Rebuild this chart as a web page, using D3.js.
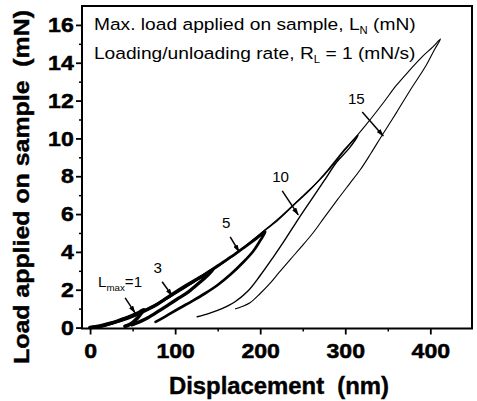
<!DOCTYPE html>
<html>
<head>
<meta charset="utf-8">
<script src="https://cdn.jsdelivr.net/npm/d3@7"></script>
<style>
  html, body { margin: 0; padding: 0; background: #fff; }
  svg { display: block; }
  text { font-family: "Liberation Sans", Arial, Helvetica, sans-serif; fill: #000; }
</style>
</head>
<body>
<svg id="chart" width="477" height="401"></svg>
<script>
// Axis ticks
const xTickValues = [0, 100, 200, 300, 400];
const xMinorValues = [50, 150, 250, 350];
const yTickValues = [0, 2, 4, 6, 8, 10, 12, 14, 16];
const yMinorValues = [1, 3, 5, 7, 9, 11, 13, 15];

// Maximum load of each indentation cycle (mN)
const maxLoads = [1, 3, 5, 10, 15];

// Load–displacement cycles: [displacement (nm), load (mN)], loading then unloading
const run1 = [
  [0, 0], [8, 0.05], [16, 0.13], [24, 0.23], [32, 0.34], [40, 0.47], [48, 0.6], [56, 0.76], [63, 0.95],
  [60, 0.74], [56, 0.52], [52, 0.34], [48, 0.2], [44, 0.11], [41, 0.07]
];
const run3 = [
  [0, 0], [12, 0.06], [25, 0.22], [38, 0.4], [50, 0.6], [62, 0.84], [75, 1.12], [88, 1.5], [100, 1.86],
  [112, 2.2], [124, 2.52], [135, 2.8], [145, 3.08],
  [138, 2.75], [128, 2.35], [116, 1.9], [104, 1.55], [92, 1.2], [80, 0.85], [68, 0.52], [58, 0.3], [49, 0.14]
];
const run5 = [
  [0, 0], [15, 0.1], [30, 0.3], [45, 0.55], [60, 0.82], [75, 1.15], [90, 1.55], [105, 1.95], [120, 2.38],
  [135, 2.82], [150, 3.27], [165, 3.72], [180, 4.2], [193, 4.62], [206, 5.06],
  [200, 4.6], [192, 4.05], [180, 3.45], [165, 2.8], [150, 2.25], [135, 1.8], [120, 1.4], [105, 1.02],
  [92, 0.68], [82, 0.42], [77, 0.3]
];
const run10 = [
  [0, 0], [20, 0.16], [40, 0.44], [60, 0.8], [80, 1.25], [100, 1.8], [120, 2.35], [140, 2.9], [160, 3.52],
  [180, 4.2], [200, 4.95], [220, 5.65], [240, 6.5], [260, 7.35], [280, 8.35], [300, 9.45], [315, 10.18],
  [305, 9.5], [290, 8.75], [275, 7.75], [260, 6.75], [245, 5.75], [230, 4.7], [215, 3.7], [200, 2.75],
  [185, 1.9], [170, 1.35], [155, 1.0], [140, 0.75], [126, 0.57]
];
const run15 = [
  [0, 0], [25, 0.22], [50, 0.62], [75, 1.13], [100, 1.82], [125, 2.5], [150, 3.25], [175, 4.05], [200, 4.95],
  [225, 5.9], [250, 6.95], [275, 8.05], [300, 9.4], [325, 10.75], [345, 11.9], [360, 12.8], [376, 13.62],
  [390, 14.3], [403, 14.84], [412, 15.26],
  [405, 14.7], [395, 13.85], [376.5, 12.56], [360, 11.35], [343.5, 10.18], [330, 9.2], [317.6, 8.34],
  [305, 7.6], [290.6, 6.75], [275, 5.8], [262, 5.0], [248, 4.25], [235, 3.58], [222, 2.9], [212, 2.36],
  [200, 1.8], [188, 1.31], [178, 1.1], [171, 0.99]
];
const runs = [run1, run3, run5, run10, run15];

// ---- drawing ----
const svg = d3.select("#chart");
const frame = { left: 82, right: 472, top: 6, bottom: 328.5 };

const x = d3.scaleLinear().domain([-9.5, 449]).range([frame.left, frame.right]);
const y = d3.scaleLinear().domain([-0.05, 17]).range([frame.bottom, frame.top]);

svg.append("rect").attr("width", 477).attr("height", 401).attr("fill", "#fff");

// stroke weight per cycle (low-load cycles are recorded densely and look heavy)
const strokeFor = { 1: 3.6, 3: 3.3, 5: 2.7, 10: 1.4, 15: 1.1 };

const line = d3.line()
  .x(d => x(d[0]))
  .y(d => y(d[1]))
  .curve(d3.curveCatmullRom.alpha(0.5));

const plot = svg.append("g");
plot.selectAll("path.cycle")
  .data(runs.map((r, i) => ({ pts: r, max: maxLoads[i] })).reverse())
  .join("path")
  .attr("class", "cycle")
  .attr("d", d => line(d.pts))
  .attr("fill", "none")
  .attr("stroke", "#000")
  .attr("stroke-width", d => strokeFor[d.max])
  .attr("stroke-linejoin", "round")
  .attr("stroke-linecap", "round");

// frame
svg.append("rect")
  .attr("x", frame.left).attr("y", frame.top)
  .attr("width", frame.right - frame.left).attr("height", frame.bottom - frame.top)
  .attr("fill", "none").attr("stroke", "#000").attr("stroke-width", 2);

// axes
const tickFont = g => g.selectAll("text")
  .attr("font-size", 21).attr("font-weight", "bold")
  .attr("font-family", '"Liberation Sans", Arial, sans-serif')
  .attr("fill", "#000")
  .attr("stroke", "#000").attr("stroke-width", 0.5)
  .attr("transform", "scale(1.1,1)");

const gx = svg.append("g").attr("transform", `translate(0,${frame.bottom})`)
  .call(d3.axisBottom(x).tickValues(xTickValues).tickSize(6).tickPadding(9).tickFormat(d3.format("d")));
gx.select(".domain").remove();
gx.call(tickFont);
gx.selectAll(".tick line").attr("stroke-width", 1.8);

const gxm = svg.append("g").attr("transform", `translate(0,${frame.bottom})`)
  .call(d3.axisBottom(x).tickValues(xMinorValues).tickSize(3).tickFormat(""));
gxm.select(".domain").remove();
gxm.selectAll(".tick line").attr("stroke-width", 1.5);

const gy = svg.append("g").attr("transform", `translate(${frame.left},0)`)
  .call(d3.axisLeft(y).tickValues(yTickValues).tickSize(6).tickPadding(1.5).tickFormat(d3.format("d")));
gy.select(".domain").remove();
gy.call(tickFont);
gy.selectAll(".tick line").attr("stroke-width", 1.8);

const gym = svg.append("g").attr("transform", `translate(${frame.left},0)`)
  .call(d3.axisLeft(y).tickValues(yMinorValues).tickSize(3).tickFormat(""));
gym.select(".domain").remove();
gym.selectAll(".tick line").attr("stroke-width", 1.5);

// axis titles
svg.append("text")
  .attr("x", 279).attr("y", 394)
  .attr("text-anchor", "middle")
  .attr("font-size", 23).attr("font-weight", "bold")
  .attr("stroke", "#000").attr("stroke-width", 0.4)
  .attr("textLength", 220).attr("lengthAdjust", "spacingAndGlyphs")
  .style("white-space", "pre")
  .text("Displacement  (nm)");

svg.append("text")
  .attr("transform", "translate(29,187) rotate(-90)")
  .attr("text-anchor", "middle")
  .attr("font-size", 22).attr("font-weight", "bold")
  .attr("stroke", "#000").attr("stroke-width", 0.4)
  .attr("textLength", 354).attr("lengthAdjust", "spacingAndGlyphs")
  .style("white-space", "pre")
  .text("Load applied on sample  (mN)");

// header notes
function noteLine(px, py, before, sub, after) {
  const t = svg.append("text")
    .attr("transform", `translate(${x(px)},${y(py)}) scale(1.13,1)`)
    .attr("font-size", 17)
    .style("white-space", "pre");
  t.append("tspan").text(before);
  t.append("tspan").attr("font-size", 10).attr("dy", 4).text(sub);
  t.append("tspan").attr("dy", -4).text(after);
}
noteLine(4.5, 15.73, "Max. load applied on sample, L", "N", " (mN)");
noteLine(4.5, 14.2, "Loading/unloading rate, R", "L", " = 1 (mN/s)");

// arrow marker
svg.append("defs").append("marker")
  .attr("id", "head")
  .attr("viewBox", "0 0 10 6")
  .attr("refX", 9).attr("refY", 3)
  .attr("markerUnits", "userSpaceOnUse")
  .attr("markerWidth", 8).attr("markerHeight", 5)
  .attr("orient", "auto")
  .append("path").attr("d", "M0,0 L10,3 L0,6 Z").attr("fill", "#000");

// cycle labels with pointers (data coordinates)
const callouts = [
  { max: 15, text: [313, 11.82], from: [320, 11.4], to: [344.7, 10.13] },
  { max: 10, text: [224, 7.7], from: [225.9, 7.23], to: [244.7, 5.96] },
  { max: 5, text: [160, 5.27], from: [164.7, 4.79], to: [175.3, 4.0] },
  { max: 3, text: [79.4, 2.89], from: [84.7, 2.42], to: [96.5, 1.68] },
  { max: 1, text: null, from: [41.2, 1.57], to: [52.9, 0.78] }
];

callouts.forEach(c => {
  svg.append("line")
    .attr("x1", x(c.from[0])).attr("y1", y(c.from[1]))
    .attr("x2", x(c.to[0])).attr("y2", y(c.to[1]))
    .attr("stroke", "#000").attr("stroke-width", 1.5)
    .attr("marker-end", "url(#head)");
  if (c.text) {
    svg.append("text")
      .attr("transform", `translate(${x(c.text[0])},${y(c.text[1])}) scale(1.08,1)`)
      .attr("text-anchor", "middle")
      .attr("font-size", 14)
      .text(c.max);
  }
});

// L_max = 1 label
const lm = svg.append("text")
  .attr("transform", `translate(${x(9.4)},${y(2.15)}) scale(1.08,1)`)
  .attr("font-size", 14);
lm.append("tspan").text("L");
lm.append("tspan").attr("font-size", 9).attr("dy", 4).text("max");
lm.append("tspan").attr("dy", -4).text("=" + maxLoads[0]);
</script>
</body>
</html>
